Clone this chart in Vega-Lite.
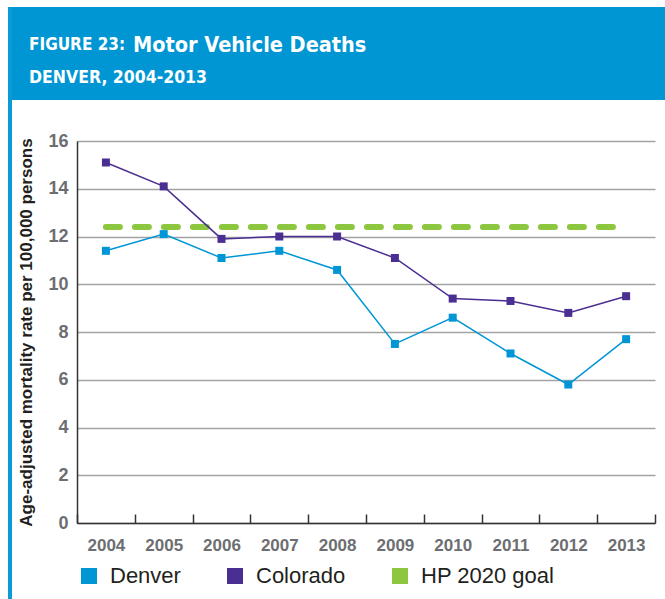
{
  "$schema": "https://vega.github.io/schema/vega-lite/v6.json",
  "background": "white",
  "padding": {"left": 8, "top": 7, "right": 0, "bottom": 0},
  "spacing": 0,
  "config": {
    "view": {"stroke": null},
    "font": "Liberation Sans"
  },
  "hconcat": [
    {
      "width": 4,
      "height": 592,
      "view": {"fill": "#0a9ad8", "stroke": null},
      "data": {"values": [{}]},
      "mark": {"type": "text"},
      "encoding": {"text": {"value": ""}}
    },
    {
      "spacing": 32,
      "vconcat": [
        {
          "spacing": 0,
          "vconcat": [
            {
              "spacing": 0,
              "bounds": "flush",
              "hconcat": [
                {
                  "width": 122,
                  "height": 55,
                  "view": {"fill": "#0096d3", "stroke": null},
                  "title": {"text": "FIGURE 23:", "anchor": "start", "frame": "group", "orient": "top", "offset": -47, "dx": 17, "font": "DejaVu Sans Condensed", "fontSize": 17, "fontWeight": "bold", "color": "white"},
                  "data": {"values": [{}]},
                  "mark": {"type": "text"},
                  "encoding": {"text": {"value": ""}}
                },
                {
                  "width": 531,
                  "height": 55,
                  "view": {"fill": "#0096d3", "stroke": null},
                  "title": {"text": "Motor Vehicle Deaths", "anchor": "start", "frame": "group", "orient": "top", "offset": -49, "dx": -1, "font": "DejaVu Sans Condensed", "fontSize": 21.5, "fontWeight": "bold", "color": "white"},
                  "data": {"values": [{}]},
                  "mark": {"type": "text"},
                  "encoding": {"text": {"value": ""}}
                }
              ]
            },
            {
              "width": 653,
              "height": 38,
              "view": {"fill": "#0096d3", "stroke": null},
              "title": {"text": "DENVER, 2004-2013", "anchor": "start", "frame": "group", "orient": "top", "offset": -24, "dx": 17, "font": "DejaVu Sans Condensed", "fontSize": 17.5, "fontWeight": "bold", "color": "white"},
              "data": {"values": [{}]},
              "mark": {"type": "text"},
              "encoding": {"text": {"value": ""}}
            }
          ]
        },
        {
          "spacing": 4,
          "hconcat": [
            {
              "width": 1,
              "height": 1,
              "data": {"values": [{}]},
              "mark": {"type": "text"},
              "encoding": {"text": {"value": ""}}
            },
            {
              "width": 578,
              "height": 382,
              "data": {
                "values": [
                  {"year": 2004, "series": "Denver", "rate": 11.4},
                  {"year": 2005, "series": "Denver", "rate": 12.1},
                  {"year": 2006, "series": "Denver", "rate": 11.1},
                  {"year": 2007, "series": "Denver", "rate": 11.4},
                  {"year": 2008, "series": "Denver", "rate": 10.6},
                  {"year": 2009, "series": "Denver", "rate": 7.5},
                  {"year": 2010, "series": "Denver", "rate": 8.6},
                  {"year": 2011, "series": "Denver", "rate": 7.1},
                  {"year": 2012, "series": "Denver", "rate": 5.8},
                  {"year": 2013, "series": "Denver", "rate": 7.7},
                  {"year": 2004, "series": "Colorado", "rate": 15.1},
                  {"year": 2005, "series": "Colorado", "rate": 14.1},
                  {"year": 2006, "series": "Colorado", "rate": 11.9},
                  {"year": 2007, "series": "Colorado", "rate": 12.0},
                  {"year": 2008, "series": "Colorado", "rate": 12.0},
                  {"year": 2009, "series": "Colorado", "rate": 11.1},
                  {"year": 2010, "series": "Colorado", "rate": 9.4},
                  {"year": 2011, "series": "Colorado", "rate": 9.3},
                  {"year": 2012, "series": "Colorado", "rate": 8.8},
                  {"year": 2013, "series": "Colorado", "rate": 9.5},
                  {"year": 2004, "series": "HP 2020 goal", "rate": 12.4},
                  {"year": 2013, "series": "HP 2020 goal", "rate": 12.4}
                ]
              },
              "encoding": {
                "x": {
                  "field": "year",
                  "type": "ordinal",
                  "scale": {"type": "band", "paddingInner": 0, "paddingOuter": 0},
                  "axis": {
                    "title": null,
                    "labelAngle": 0,
                    "labelFont": "Liberation Sans",
                    "labelFontSize": 17,
                    "labelFontWeight": "bold",
                    "labelColor": "#6d6e71",
                    "labelPadding": 23,
                    "tickBand": "extent",
                    "tickSize": -9,
                    "tickColor": "#333333",
                    "tickWidth": 1.5,
                    "domainColor": "#333333",
                    "domainWidth": 1.5,
                    "grid": false
                  }
                },
                "y": {
                  "field": "rate",
                  "type": "quantitative",
                  "scale": {"domain": [0, 16]},
                  "axis": {
                    "title": "Age-adjusted mortality rate per 100,000 persons",
                    "titleFont": "Liberation Sans",
                    "titleFontSize": 17,
                    "titleFontWeight": "bold",
                    "titleColor": "#231f20",
                    "titlePadding": 12,
                    "values": [0, 2, 4, 6, 8, 10, 12, 14, 16],
                    "labelFont": "Liberation Sans",
                    "labelFontSize": 18,
                    "labelFontWeight": "bold",
                    "labelColor": "#6d6e71",
                    "labelPadding": 9,
                    "ticks": false,
                    "tickSize": 0,
                    "domainColor": "#333333",
                    "domainWidth": 1.5,
                    "grid": true,
                    "gridColor": "#a3a3a3",
                    "gridWidth": 1.5
                  }
                },
                "color": {
                  "field": "series",
                  "type": "nominal",
                  "scale": {"domain": ["Denver", "Colorado", "HP 2020 goal"], "range": ["#0096d6", "#4b2e91", "#8dc63f"]},
                  "legend": {
                    "title": null,
                    "orient": "none",
                    "direction": "horizontal",
                    "legendX": 70,
                    "legendY": 558,
                    "padding": 0,
                    "symbolType": "square",
                    "symbolSize": 256,
                    "symbolStrokeWidth": 0,
                    "labelFont": "Liberation Sans",
                    "labelFontSize": 22,
                    "labelColor": "#231f20",
                    "labelOffset": 10,
                    "columnPadding": 43,
                    "encode": {"symbols": {"update": {"fill": {"scale": "color", "field": "value"}, "opacity": {"value": 1}}}}
                  }
                }
              },
              "layer": [
                {
                  "transform": [{"filter": "datum.series === 'HP 2020 goal'"}],
                  "mark": {"type": "line", "strokeWidth": 6, "strokeDash": [14, 15], "strokeCap": "round"}
                },
                {
                  "transform": [{"filter": "datum.series !== 'HP 2020 goal'"}],
                  "mark": {"type": "line", "strokeWidth": 1.5}
                },
                {
                  "transform": [{"filter": "datum.series !== 'HP 2020 goal'"}],
                  "mark": {"type": "point", "shape": "square", "filled": true, "size": 64, "opacity": 1}
                }
              ]
            }
          ]
        }
      ]
    }
  ]
}
